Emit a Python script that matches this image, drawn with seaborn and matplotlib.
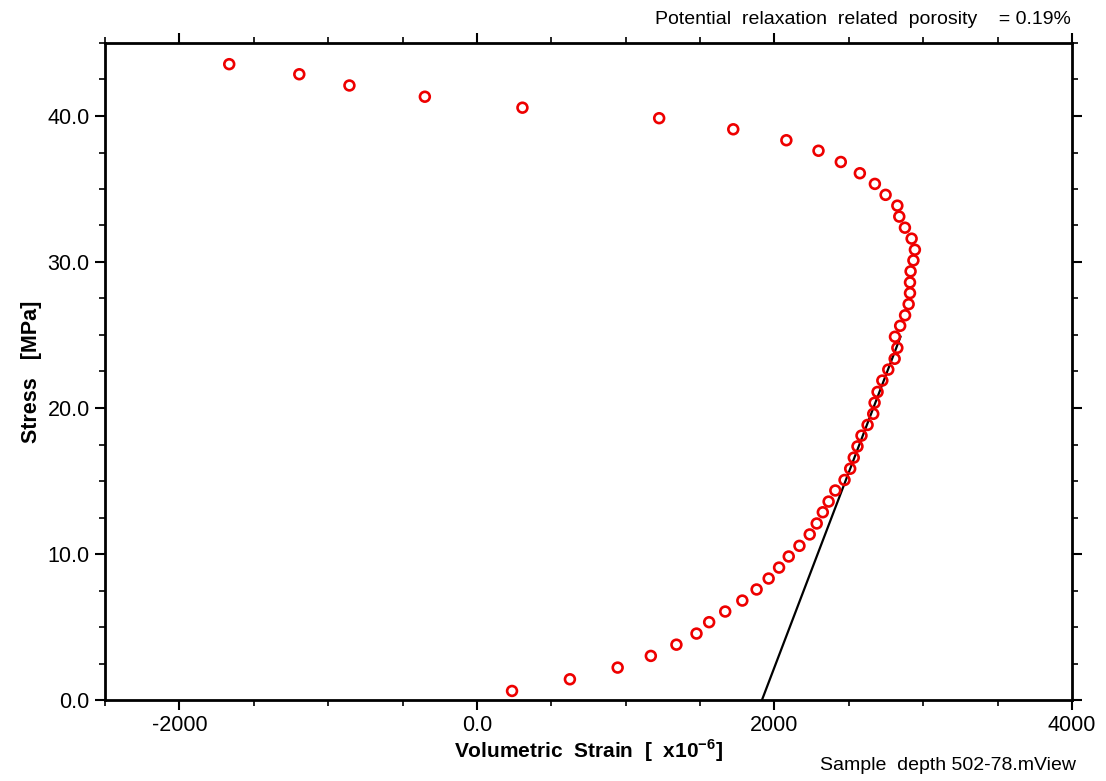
import matplotlib
matplotlib.use("Agg")
import matplotlib.pyplot as plt
import seaborn as sns
import pandas as pd
from matplotlib.ticker import FixedLocator, MultipleLocator, FixedFormatter, FormatStrFormatter

# ---- data ----
strain = [236, 625, 946, 1169, 1341, 1476, 1561, 1669, 1784, 1880,
          1961, 2031, 2096, 2168, 2237, 2284, 2325, 2364, 2409, 2471,
          2509, 2533, 2558, 2585, 2626, 2664, 2673, 2693, 2725, 2765,
          2808, 2826, 2810, 2845, 2878, 2902, 2911, 2911, 2915, 2934,
          2944, 2922, 2877, 2839, 2826, 2747, 2675, 2574, 2446, 2296,
          2080, 1723, 1225, 306, -350, -857, -1194, -1665]
stress = [0.62, 1.42, 2.22, 3.02, 3.79, 4.55, 5.33, 6.06, 6.81, 7.57,
          8.32, 9.07, 9.83, 10.56, 11.34, 12.09, 12.86, 13.59, 14.35, 15.07,
          15.84, 16.60, 17.37, 18.11, 18.84, 19.60, 20.36, 21.10, 21.88, 22.63,
          23.37, 24.12, 24.88, 25.63, 26.35, 27.11, 27.87, 28.60, 29.36, 30.11,
          30.84, 31.60, 32.35, 33.11, 33.86, 34.60, 35.35, 36.08, 36.85, 37.62,
          38.34, 39.09, 39.85, 40.57, 41.32, 42.09, 42.86, 43.55]
fit_strain = [1916, 2848]
fit_stress = [0.0, 24.9]
x_ticks = [-2000, 0, 2000, 4000]
x_ticklabels = ["-2000", "0.0", "2000", "4000"]
y_ticks = [0, 10, 20, 30, 40]
porosity_text = "Potential  relaxation  related  porosity    = 0.19%"
sample_text = "Sample  depth 502-78.mView"

sns.set_style("white")
plt.rcParams["font.family"] = ["Liberation Sans", "DejaVu Sans"]
plt.rcParams["mathtext.fontset"] = "custom"
plt.rcParams["mathtext.rm"] = "Liberation Sans"
plt.rcParams["mathtext.bf"] = "Liberation Sans:bold"
plt.rcParams["text.color"] = "black"
plt.rcParams["axes.labelcolor"] = "black"
plt.rcParams["xtick.color"] = "black"
plt.rcParams["ytick.color"] = "black"

df = pd.DataFrame({"strain": strain, "stress": stress})
fit = pd.DataFrame({"strain": fit_strain, "stress": fit_stress})

fig = plt.figure(figsize=(11.06, 7.81), dpi=100)
ax = fig.add_axes([105 / 1106, 1 - 700 / 781, (1072 - 105) / 1106, (700 - 43) / 781])

sns.lineplot(data=fit, x="strain", y="stress", ax=ax, color="black",
             linewidth=1.6, sort=False, zorder=2)
sns.scatterplot(data=df, x="strain", y="stress", ax=ax, marker="o",
                facecolors="none", edgecolor="#ee0000", linewidth=1.9,
                s=50, zorder=3)

ax.set_xlim(-2500, 4000)
ax.set_ylim(0, 45)

ax.xaxis.set_major_locator(FixedLocator(x_ticks))
ax.xaxis.set_major_formatter(FixedFormatter(x_ticklabels))
ax.xaxis.set_minor_locator(MultipleLocator(500))
ax.yaxis.set_major_locator(FixedLocator(y_ticks))
ax.yaxis.set_major_formatter(FormatStrFormatter("%.1f"))
ax.yaxis.set_minor_locator(MultipleLocator(2.5))

ax.tick_params(which="both", direction="out", top=True, right=True,
               bottom=True, left=True, labeltop=False, labelright=False,
               color="black", labelcolor="black")
ax.tick_params(which="major", length=7, width=1.5, labelsize=15.5, pad=4)
ax.tick_params(which="minor", length=4, width=1.2)

for sp in ax.spines.values():
    sp.set_visible(True)
    sp.set_color("black")
    sp.set_linewidth(2.0)

ax.set_xlabel(r"Volumetric  Strain  [  x10$^{\mathbf{-6}}$]", fontsize=15,
              fontweight="bold", labelpad=1, color="black")
ax.set_ylabel("Stress   [MPa]", fontsize=15.5, fontweight="bold", labelpad=4,
              color="black")

fig.text(1071 / 1106, 1 - 20 / 781, porosity_text, ha="right", va="center",
         fontsize=14, color="black")
fig.text(1076 / 1106, 1 - 765 / 781, sample_text, ha="right", va="center",
         fontsize=14, color="black")

fig.savefig("out.png", dpi=100)
